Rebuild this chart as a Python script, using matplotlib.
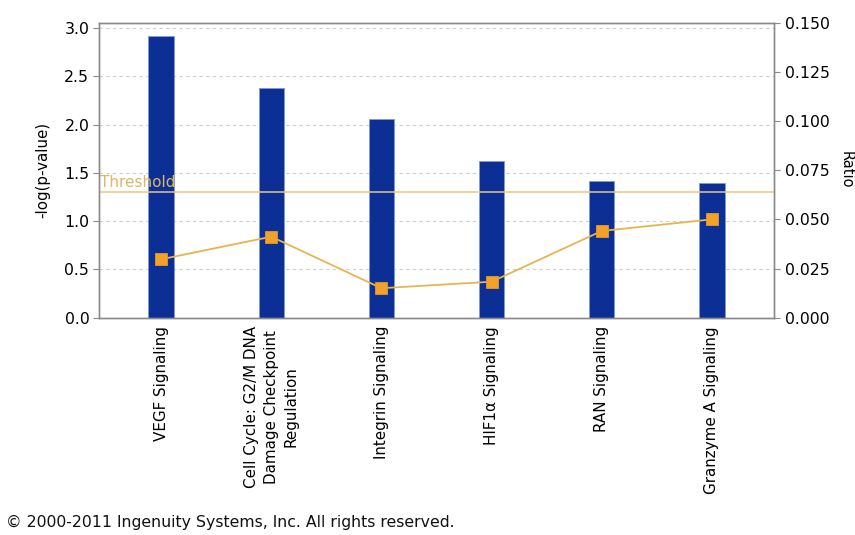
import matplotlib
matplotlib.use("Agg")
import matplotlib.pyplot as plt
from matplotlib.ticker import FormatStrFormatter, MultipleLocator

plt.rcParams['font.family'] = ['DejaVu Sans']

categories = [
    "VEGF Signaling",
    "Cell Cycle: G2/M DNA\nDamage Checkpoint\nRegulation",
    "Integrin Signaling",
    "HIF1\u03b1 Signaling",
    "RAN Signaling",
    "Granzyme A Signaling",
]
neg_log_p = [2.92, 2.38, 2.06, 1.625, 1.415, 1.39]
ratio = [0.0297, 0.0412, 0.0150, 0.0183, 0.0441, 0.0500]
threshold = 1.3

BAR_COLOR = "#0b2f94"
LINE_COLOR = "#e8b450"
MARKER_COLOR = "#f2a12a"
THRESH_COLOR = "#e9c77e"
SPINE_COLOR = "#8a8a8a"

fig = plt.figure(figsize=(8.55, 5.35), dpi=100)
ax = fig.add_axes([99 / 855, 1 - 317.7 / 535, 675 / 855, 295 / 535])

x = list(range(len(categories)))
ax.bar(x, neg_log_p, width=0.23, color=BAR_COLOR, edgecolor="#7f9ad6",
       linewidth=0.6, zorder=2)

ax.set_xlim(-0.564, len(categories) - 1 + 0.564)
ax.set_ylim(0, 3.054)
ax.yaxis.set_major_locator(MultipleLocator(0.5))
ax.yaxis.set_major_formatter(FormatStrFormatter("%.1f"))
ax.grid(axis="y", color="#cfcfcf", linestyle=(0, (3, 3)), linewidth=0.8, zorder=0)
ax.set_axisbelow(True)

ax.set_xticks(x)
ax.set_xticklabels(categories, rotation=90, va="top", ha="center",
                   multialignment="center", fontsize=10.9, linespacing=1.4)
ax.tick_params(axis="x", length=0, pad=6)
ax.tick_params(axis="y", length=4, color=SPINE_COLOR, labelsize=11.3, pad=3)
ax.set_ylabel("-log(p-value)", fontsize=10.8, labelpad=10)

for sp in ax.spines.values():
    sp.set_color(SPINE_COLOR)
    sp.set_linewidth(1.0)

# significance threshold
ax.axhline(threshold, color=THRESH_COLOR, linewidth=1.1, zorder=3)
ax.text(-0.555, threshold + 0.02, "Threshold", color="#dcb765", fontsize=11,
        va="bottom", ha="left", zorder=4)

# ratio on the secondary axis
ax2 = ax.twinx()
ax2.plot(x, ratio, color=LINE_COLOR, linewidth=1.3, marker="s",
         markersize=8.5, markerfacecolor=MARKER_COLOR,
         markeredgecolor="#e39a2a", markeredgewidth=0.6, zorder=5)
ax2.set_ylim(0, 0.15)
ax2.yaxis.set_major_locator(MultipleLocator(0.025))
ax2.yaxis.set_major_formatter(FormatStrFormatter("%.3f"))
ax2.tick_params(axis="y", length=4, color=SPINE_COLOR, labelsize=11.3, pad=4)
ax2.set_ylabel("Ratio", fontsize=10.5, rotation=270, labelpad=17)
for sp in ax2.spines.values():
    sp.set_color(SPINE_COLOR)
    sp.set_linewidth(1.0)

fig.text(6 / 855, 1 - 530 / 535, "\u00a9 2000-2011 Ingenuity Systems, Inc. All rights reserved.",
         fontsize=11.3, va="bottom", ha="left", color="#111111")

fig.savefig("out.png", dpi=100, facecolor="white")
